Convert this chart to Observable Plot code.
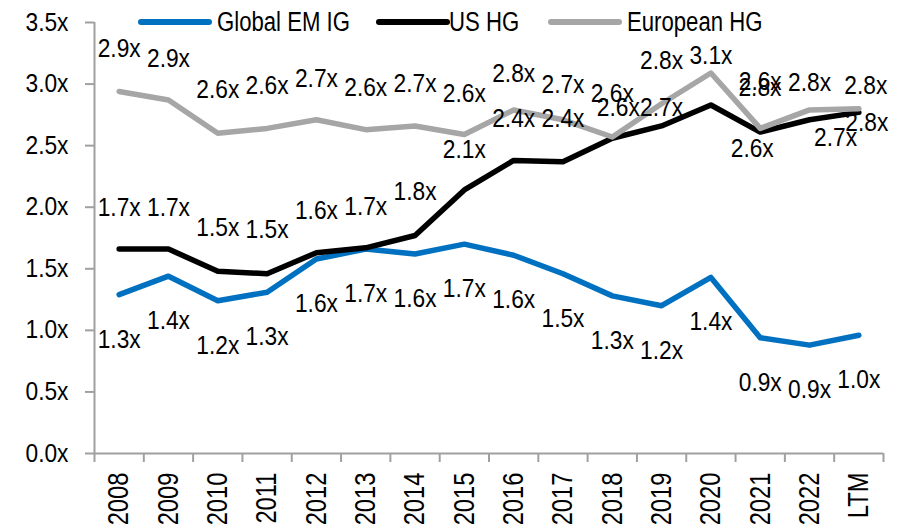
<!DOCTYPE html>
<html><head><meta charset="utf-8">
<script src="https://cdn.jsdelivr.net/npm/d3@7"></script>
<script src="https://cdn.jsdelivr.net/npm/@observablehq/plot@0.6"></script>
<style>
body{margin:0;background:#fff;}
#wrap{position:relative;width:897px;height:529px;overflow:hidden;font-family:"Liberation Sans",Arial,sans-serif;}
#chart{position:absolute;left:0;top:0;}
.sw{position:absolute;top:19px;height:6px;border-radius:3px;}
.lt{position:absolute;top:6px;font-size:27px;line-height:32px;color:#000;white-space:nowrap;transform:scaleX(0.82);transform-origin:0 50%;}
</style></head><body>
<div id="wrap"><div id="chart"></div><div id="legend"></div></div>
<script>
const categories = ["2008","2009","2010","2011","2012","2013","2014","2015","2016","2017","2018","2019","2020","2021","2022","LTM"];
const globalEmIg = [1.29,1.44,1.24,1.31,1.58,1.66,1.62,1.70,1.61,1.46,1.28,1.20,1.43,0.94,0.88,0.96];
const usHg = [1.66,1.66,1.48,1.46,1.63,1.67,1.77,2.14,2.38,2.37,2.56,2.66,2.83,2.61,2.71,2.77];
const europeanHg = [2.94,2.87,2.60,2.64,2.71,2.63,2.66,2.59,2.79,2.71,2.57,2.84,3.09,2.64,2.79,2.80];
const seriesNames = ["Global EM IG","US HG","European HG"];
const seriesColors = ["#0070C0","#000000","#A6A6A6"];
const yTicks = [0,0.5,1.0,1.5,2.0,2.5,3.0,3.5];

// label nudges in pixels (layout only)
const nudgeEm = categories.map(() => [0, 45]);
const nudgeUs = [[0,-41],[0,-41],[0,-43],[0,-44],[0,-42],[0,-41],[0,-44],[0,-40],[0,-41],[0,-43],[6,-30],[0,-18],[49,-17],[-8,17],[26,18],[8,11]];
const nudgeEu = [[0,-42],[0,-41],[0,-43],[0,-42],[0,-41],[0,-42],[0,-42],[0,-41],[0,-36],[0,-35],[0,-43],[0,-43],[0,-17],[0,-46],[0,-27],[7,-23]];

const seriesValues = [globalEmIg, usHg, europeanHg];
const nudges = [nudgeEm, nudgeUs, nudgeEu];
const rows = [];
seriesValues.forEach((vals, s) => vals.forEach((v, i) => rows.push({series: seriesNames[s], s, i, x: i + 0.5, v})));
// draw grey labels first so the US HG labels sit on top where they collide
const labelOrder = [...rows].sort((a, b) => (b.s === 2) - (a.s === 2));

const font = '"Liberation Sans",Arial,sans-serif';
const fmt = v => v.toFixed(1) + "x";
const labelMarks = labelOrder.map(r => Plot.text([r], {
  x: "x", y: "v", text: d => fmt(d.v),
  dx: nudges[r.s][r.i][0], dy: nudges[r.s][r.i][1],
  fill: "#000", fontSize: 25, textAnchor: "middle", lineAnchor: "middle"
}));

const chart = Plot.plot({
  width: 897, height: 529,
  marginLeft: 94, marginRight: 14, marginTop: 22, marginBottom: 76,
  style: {fontFamily: font, background: "#fff", overflow: "visible"},
  x: {type: "linear", domain: [0, categories.length], label: null},
  y: {domain: [0, 3.5], label: null},
  marks: [
    Plot.axisY({ticks: yTicks, tickFormat: fmt, tickSize: 9, tickPadding: 17, stroke: "#a0a0a0", strokeWidth: 2, fill: "#000", fontSize: 25, label: null}),
    Plot.axisX({ticks: d3.range(categories.length + 1), tickFormat: () => "", tickSize: 9, stroke: "#a0a0a0", strokeWidth: 2, label: null}),
    Plot.axisX({ticks: categories.map((_, i) => i + 0.5), tickFormat: t => categories[Math.round(t - 0.5)], tickSize: 0, tickPadding: 19, tickRotate: -90, textAnchor: "end", fill: "#000", fontSize: 29, label: null}),
    Plot.ruleX([0], {stroke: "#a0a0a0", strokeWidth: 2}),
    Plot.ruleY([0], {stroke: "#a0a0a0", strokeWidth: 2}),
    Plot.line(rows, {x: "x", y: "v", z: "series", stroke: d => seriesColors[d.s], strokeWidth: 5.5, strokeLinecap: "round", strokeLinejoin: "round"}),
    ...labelMarks
  ]
});
// condense glyphs to mimic the narrow face of the original
chart.querySelectorAll("text").forEach(el => {
  const t = el.getAttribute("transform");
  if (!t) return;
  el.setAttribute("transform", t + (t.includes("rotate(-90)") ? " scale(0.82,1)" : " scale(0.91,1)"));
});
document.getElementById("chart").appendChild(chart);

const legend = document.getElementById("legend");
const swatchLeft = [138, 376, 548], textLeft = [217, 449, 627];
seriesNames.forEach((n, s) => {
  const sw = document.createElement("div"); sw.className = "sw";
  sw.style.left = swatchLeft[s] + "px"; sw.style.width = "74px"; sw.style.background = seriesColors[s];
  const tx = document.createElement("div"); tx.className = "lt"; tx.textContent = n; tx.style.left = textLeft[s] + "px";
  legend.appendChild(sw); legend.appendChild(tx);
});
</script>
</body></html>
